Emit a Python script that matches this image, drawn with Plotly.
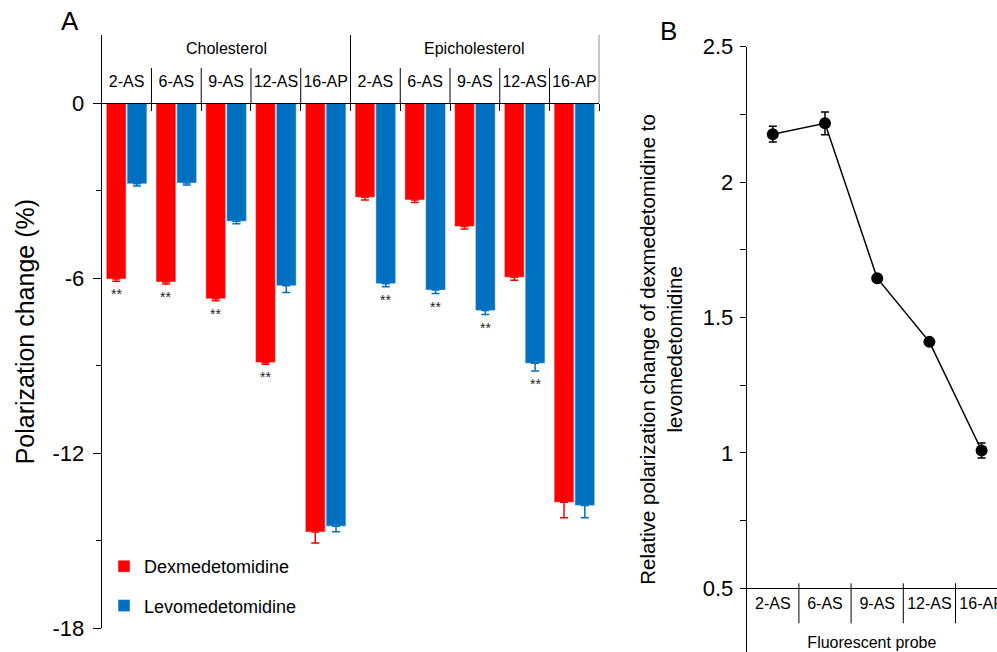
import plotly.graph_objects as go

# ---------------- data ----------------
probes = ["2-AS", "6-AS", "9-AS", "12-AS", "16-AP"]
groups = ["Cholesterol", "Epicholesterol"]
series_names = ["Dexmedetomidine", "Levomedetomidine"]

dex = [-6.03, -6.13, -6.71, -8.89, -14.70, -3.23, -3.32, -4.23, -5.97, -13.68]
dex_err = [0.08, 0.07, 0.07, 0.06, 0.38, 0.09, 0.09, 0.09, 0.10, 0.53]
levo = [-2.77, -2.74, -4.05, -6.26, -14.50, -6.19, -6.41, -7.11, -8.92, -13.79]
levo_err = [0.07, 0.07, 0.09, 0.23, 0.19, 0.11, 0.12, 0.14, 0.26, 0.42]
dex_sig = ["**", "**", "**", "**", "", "", "", "", "", ""]
levo_sig = ["", "", "", "", "", "**", "**", "**", "**", ""]

ratio = [2.177, 2.217, 1.645, 1.41, 1.009]
ratio_err = [0.029, 0.042, 0.013, 0.010, 0.028]

a_yticks = [0, -6, -12, -18]
a_ytext = ["0", "-6", "-12", "-18"]
b_yticks = [0.5, 1, 1.5, 2, 2.5]
b_ytext = ["0.5", "1", "1.5", "2", "2.5"]

# ---------------- layout constants ----------------
W, H = 997, 652
FONT = "Liberation Sans, Arial, sans-serif"
RED, BLUE = "#FF0000", "#0070C0"


def fx(px):
    return px / W


def fy(py):
    return 1 - py / H


A_X0, A_X1 = 101.7, 599.3
A_TOP, A_BOT = 35.0, 628.3
A_ZERO = 103.0
A_YMAX = (A_ZERO - A_TOP) / ((A_BOT - A_ZERO) / 18.0)
B_X0 = 746.7
B_CAT = 52.2
B_TOP, B_05 = 46.7, 588.3
B_PXU = (B_05 - B_TOP) / 2.0
B_YMIN = 0.5 - (H - B_05) / B_PXU
BARGAP = 0.164

labels = [p for g in groups for p in probes]
xa = list(range(len(labels)))
xb = list(range(len(probes)))

fig = go.Figure()

fig.add_trace(go.Bar(
    x=xa, y=dex, name=series_names[0], marker_color=RED, legendgroup="d",
    error_y=dict(type="data", symmetric=False, array=[0] * len(dex), arrayminus=dex_err,
                 color=RED, thickness=1.5, width=4),
    xaxis="x", yaxis="y"))
fig.add_trace(go.Bar(
    x=xa, y=levo, name=series_names[1], marker_color=BLUE, legendgroup="l",
    error_y=dict(type="data", symmetric=False, array=[0] * len(levo), arrayminus=levo_err,
                 color=BLUE, thickness=1.5, width=4),
    xaxis="x", yaxis="y"))

fig.add_trace(go.Scatter(
    x=xb, y=ratio, mode="lines+markers", showlegend=False,
    line=dict(color="black", width=1.5),
    marker=dict(color="black", size=12),
    error_y=dict(type="data", array=ratio_err, color="black", thickness=1.5, width=4),
    xaxis="x2", yaxis="y2"))

# significance stars
cat_px = (A_X1 - A_X0) / len(labels)
off = (1 - BARGAP) * cat_px / 4
annotations = []
for i in xa:
    for sig, val, err, sh in ((dex_sig[i], dex[i], dex_err[i], -off), (levo_sig[i], levo[i], levo_err[i], off)):
        if sig:
            annotations.append(dict(x=i, y=val - err, xref="x", yref="y", text=sig, showarrow=False,
                                    xshift=sh, yshift=-3, yanchor="top", xanchor="center",
                                    font=dict(size=14, color="#222", family=FONT)))

# group headers
for gi, g in enumerate(groups):
    annotations.append(dict(x=gi * len(probes) + (len(probes) - 1) / 2, y=fy(48), xref="x", yref="paper",
                            text=g, showarrow=False, xanchor="center", yanchor="middle",
                            font=dict(size=16, color="black", family=FONT)))

# panel letters
annotations.append(dict(x=fx(70), y=fy(21), xref="paper", yref="paper", text="A", showarrow=False,
                        xanchor="center", yanchor="middle",
                        font=dict(size=26, color="black", family=FONT)))
annotations.append(dict(x=fx(668), y=fy(31), xref="paper", yref="paper", text="B", showarrow=False,
                        xanchor="center", yanchor="middle",
                        font=dict(size=26, color="black", family=FONT)))

# separators
shapes = []
for k in range(1, len(labels) + 1):
    xb_ = k - 0.5
    top = A_TOP if k % len(probes) == 0 else 68
    shapes.append(dict(type="line", xref="x", yref="paper", x0=xb_, x1=xb_, y0=fy(A_ZERO), y1=fy(top),
                       line=dict(color="black", width=1)))
for k in range(1, len(probes) + 1):
    shapes.append(dict(type="line", xref="x2", yref="paper", x0=k - 0.5, x1=k - 0.5, y0=fy(B_05 - 5),
                       y1=fy(B_05 + 35), line=dict(color="black", width=1)))

axis_font = dict(size=22, color="black", family=FONT)

fig.update_layout(
    width=W, height=H, margin=dict(l=0, r=0, t=0, b=0),
    paper_bgcolor="white", plot_bgcolor="white",
    barmode="group", bargap=BARGAP, bargroupgap=0.05,
    font=dict(family=FONT, color="black"),
    showlegend=True,
    legend=dict(x=fx(104), y=fy(548), xanchor="left", yanchor="top", traceorder="grouped",
                tracegroupgap=13, font=dict(size=18, color="black", family=FONT),
                bgcolor="rgba(0,0,0,0)"),
    xaxis=dict(domain=[fx(A_X0), fx(A_X1)], range=[-0.5, len(labels) - 0.5], anchor="free",
               position=fy(A_ZERO), side="top", showline=True, linecolor="black", linewidth=1,
               tickmode="array", tickvals=xa, ticktext=labels, ticks="", ticklabelstandoff=10,
               tickfont=dict(size=16, color="black", family=FONT), showgrid=False, zeroline=False,
               automargin=False,
               minor=dict(tickmode="array", tickvals=[k + 0.5 for k in xa], ticks="inside", ticklen=7,
                          tickcolor="black", tickwidth=1, showgrid=False)),
    yaxis=dict(domain=[fy(A_BOT), fy(A_TOP)], range=[-18, A_YMAX], anchor="x", showline=True,
               linecolor="black", linewidth=1, tickmode="array", tickvals=a_yticks, ticktext=a_ytext,
               ticks="outside", ticklen=8, tickcolor="black", tickfont=axis_font,
               ticklabelstandoff=4, showgrid=False, zeroline=False, automargin=False,
               title=dict(text="Polarization change (%)", font=dict(size=25, color="black", family=FONT),
                          standoff=10),
               minor=dict(tickmode="array", tickvals=[-3, -9, -15], ticks="outside", ticklen=5,
                          tickcolor="black", showgrid=False)),
    xaxis2=dict(domain=[fx(B_X0), 1], range=[-0.5, (W - B_X0) / B_CAT - 0.5], anchor="free",
                position=fy(B_05), showline=True, linecolor="black", linewidth=1,
                tickmode="array", tickvals=xb, ticktext=probes, ticks="", ticklabelstandoff=0,
                ticklabeloverflow="allow",
                tickfont=dict(size=16, color="black", family=FONT), showgrid=False, zeroline=False,
                automargin=False,
                title=dict(text="Fluorescent probe", font=dict(size=16, color="black", family=FONT),
                           standoff=26)),
    yaxis2=dict(domain=[0, fy(B_TOP)], range=[B_YMIN, 2.5], anchor="x2", showline=True,
                linecolor="black", linewidth=1, tickmode="array", tickvals=b_yticks, ticktext=b_ytext,
                ticks="outside", ticklen=6, tickcolor="black", tickfont=axis_font,
                ticklabelstandoff=2, showgrid=False, zeroline=False, automargin=False,
                title=dict(text="Relative polarization change of dexmedetomidine to<br>levomedetomidine",
                           font=dict(size=20.5, color="black", family=FONT), standoff=14),
                minor=dict(tickmode="array", tickvals=[0.75, 1.25, 1.75, 2.25], ticks="outside",
                           ticklen=6, tickcolor="black", showgrid=False)),
    annotations=annotations,
    shapes=shapes,
)

fig.write_html("out.html", config={"displayModeBar": False},
               post_script="document.body.style.margin='0px';")
